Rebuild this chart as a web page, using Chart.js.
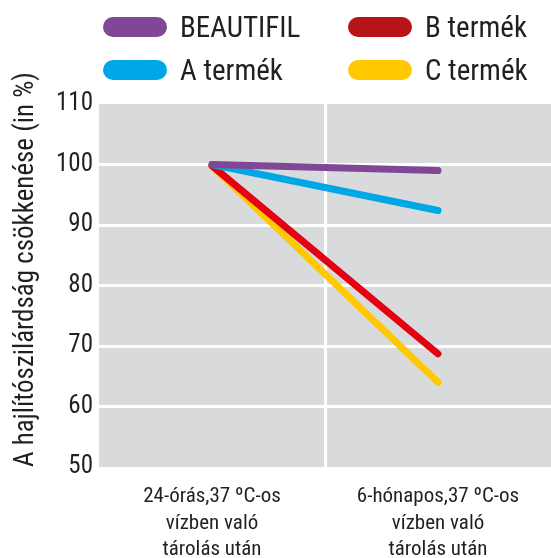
<!DOCTYPE html>
<html>
<head>
<meta charset="utf-8">
<script src="https://cdn.jsdelivr.net/npm/chart.js@4/dist/chart.umd.min.js"></script>
<style>
html,body{margin:0;padding:0;background:#fff;}
#wrap{position:relative;width:551px;height:558px;}
</style>
</head>
<body>
<div id="wrap"><canvas id="c" width="551" height="558"></canvas></div>
<script>
const categories = [["24-órás,37 ºC-os","vízben való","tárolás után"],["6-hónapos,37 ºC-os","vízben való","tárolás után"]];
const seriesNames = ["BEAUTIFIL","A termék","B termék","C termék"];
const beautifil = [100, 99.0];
const termekA = [100, 92.4];
const termekB = [99.8, 68.7];
const termekC = [99.8, 64.0];
const yTicks = [50,60,70,80,90,100,110];
const yTitle = "A hajlítószilárdság csökkenése (in %)";

const FONT = "'Liberation Sans Narrow','Roboto Condensed','Liberation Sans',sans-serif";
const lineColors = ["#7F4796","#00A7E7","#E50012","#FFC800"];
const legendColors = ["#7F4796","#00A7E7","#B7141A","#FFC800"];

const bgPlugin = {
  id:'bg',
  beforeDraw(chart){
    const {ctx, chartArea:a} = chart;
    ctx.save();
    ctx.fillStyle = '#D9DADB';
    ctx.fillRect(a.left, a.top, a.right-a.left, a.bottom-a.top);
    ctx.restore();
  }
};

const legendPlugin = {
  id:'customLegend',
  afterDraw(chart){
    const ctx = chart.ctx;
    const slots = [[103,27],[103,70],[348,27],[348,70]]; // BEAUTIFIL, A, B, C
    ctx.save();
    chart.data.datasets.forEach((ds,i)=>{
      const [x,y] = slots[i];
      ctx.fillStyle = legendColors[i];
      ctx.beginPath();
      ctx.roundRect(x, y-10, 64, 20, 10);
      ctx.fill();
      ctx.fillStyle = '#231F20';
      ctx.font = "29px " + FONT;
      ctx.textBaseline = 'middle';
      ctx.textAlign = 'left';
      ctx.fillText(ds.label, x+77, y+3);
    });
    ctx.restore();
  }
};

const mk = (label, data, i) => ({
  label, data,
  borderColor: lineColors[i],
  backgroundColor: lineColors[i],
  borderWidth: 7,
  borderCapStyle: 'round',
  borderJoinStyle: 'round',
  pointRadius: 0,
  pointHoverRadius: 0,
  tension: 0,
  fill: false
});

new Chart(document.getElementById('c'), {
  type:'line',
  data:{
    labels: categories,
    datasets:[
      mk(seriesNames[0], beautifil, 0),
      mk(seriesNames[1], termekA, 1),
      mk(seriesNames[2], termekB, 2),
      mk(seriesNames[3], termekC, 3)
    ]
  },
  options:{
    responsive:false,
    animation:false,
    devicePixelRatio:1,
    layout:{padding:{top:104,right:0,bottom:0,left:10}},
    plugins:{legend:{display:false}, tooltip:{enabled:false}},
    scales:{
      x:{
        offset:true,
        grid:{offset:true, drawTicks:false, lineWidth:3,
          color:(c)=> c.index===1 ? '#FFFFFF' : 'rgba(0,0,0,0)'},
        border:{display:false},
        ticks:{color:'#231F20', font:{family:FONT, size:21, lineHeight:1.25}, padding:17, maxRotation:0, autoSkip:false},
        afterFit(s){ s.height = 91; }
      },
      y:{
        min:50, max:110,
        afterBuildTicks(s){ s.ticks = yTicks.map(v=>({value:v})); },
        grid:{drawTicks:false, lineWidth:3,
          color:(c)=> (c.tick && (c.tick.value===50 || c.tick.value===110)) ? 'rgba(0,0,0,0)' : '#FFFFFF'},
        border:{display:false},
        ticks:{color:'#231F20', font:{family:FONT, size:25}, padding:6},
        title:{display:true, text:yTitle, align:'start', color:'#231F20', font:{family:FONT, size:27}, padding:{top:0,bottom:10}},
        afterFit(s){ s.width = 89; }
      }
    }
  },
  plugins:[bgPlugin, legendPlugin]
});
</script>
</body>
</html>
